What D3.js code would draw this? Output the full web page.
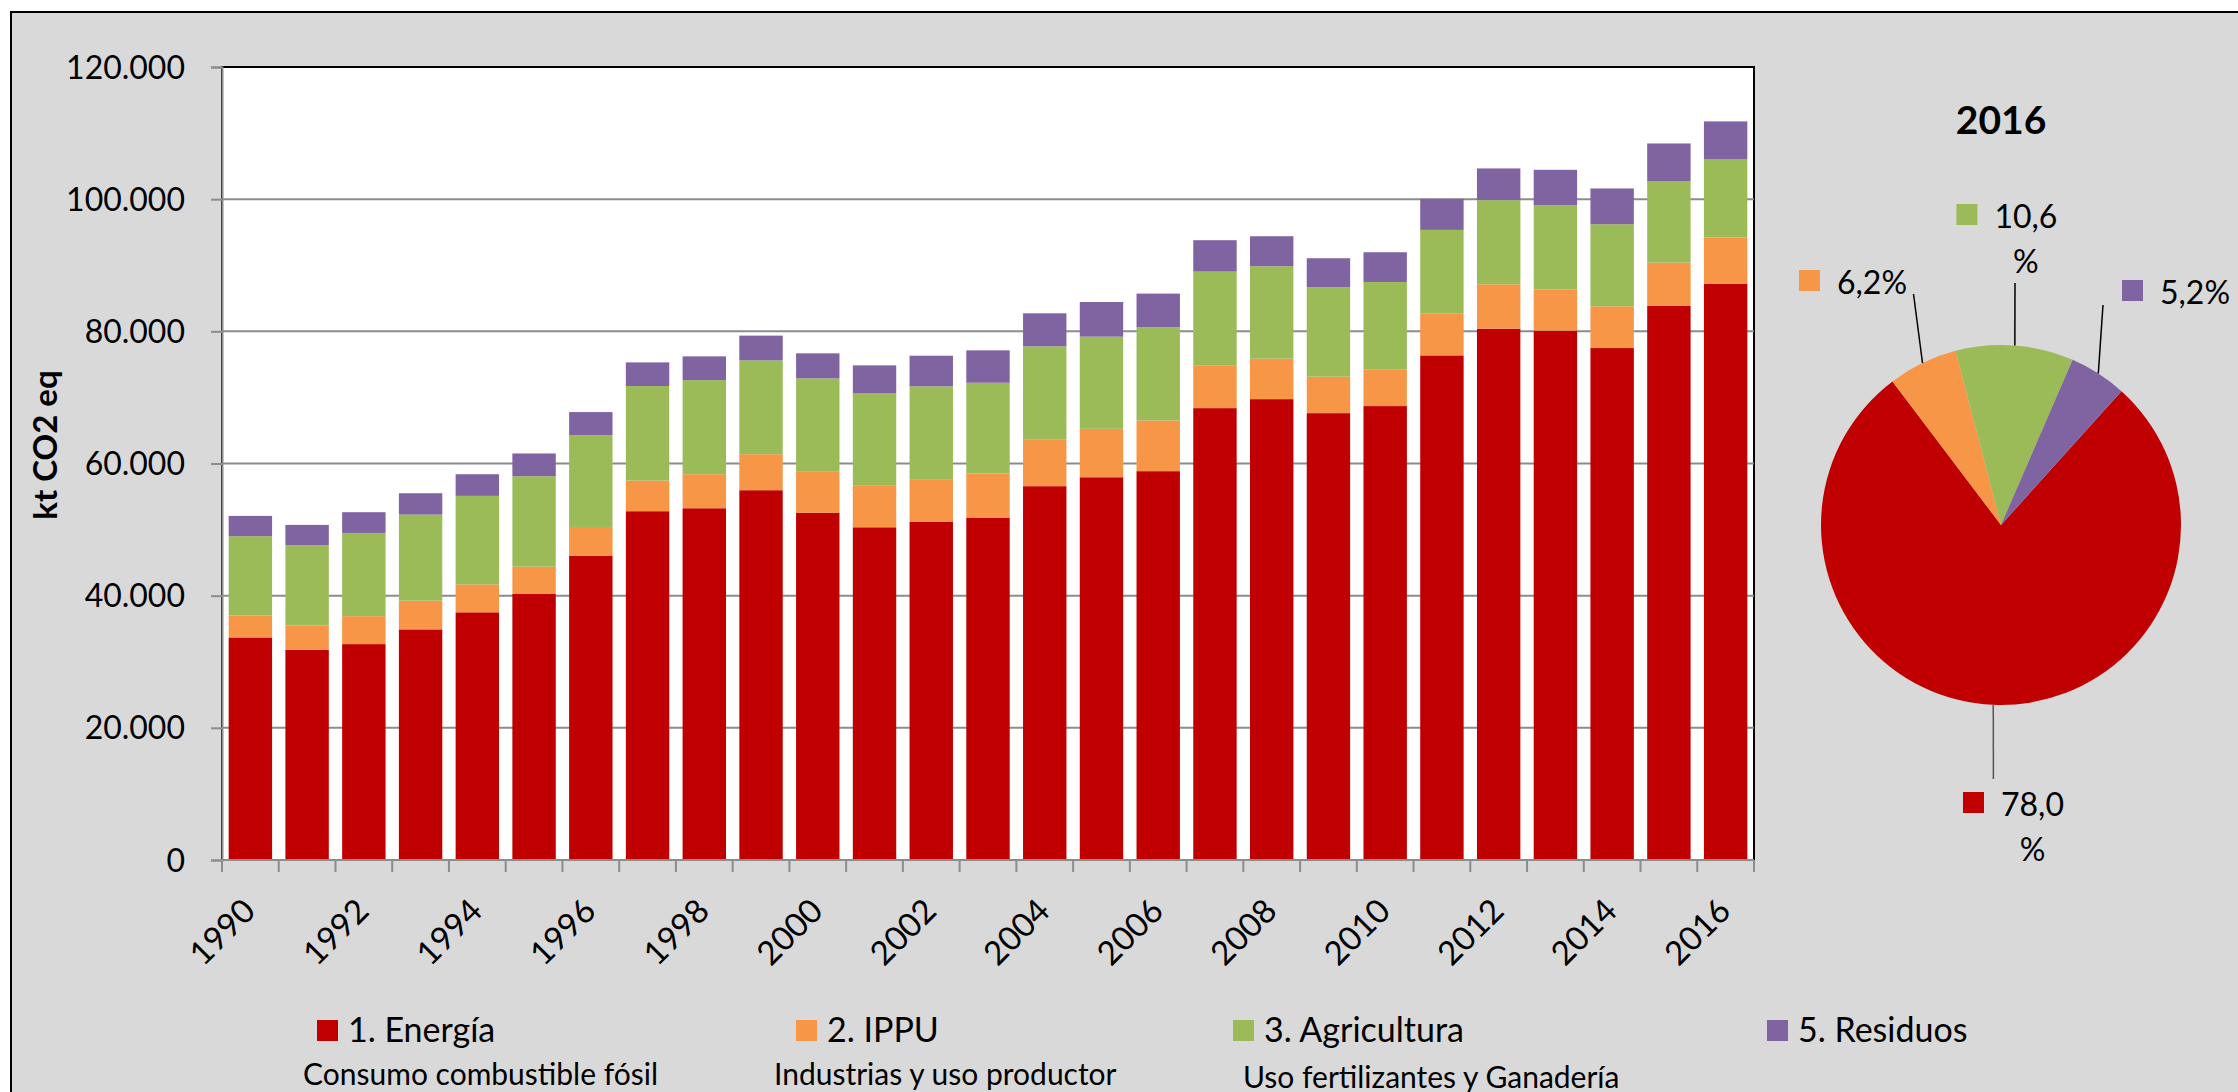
<!DOCTYPE html>
<html>
<head>
<meta charset="utf-8">
<script src="https://cdn.jsdelivr.net/npm/d3@7"></script>
<style>
body { margin: 0; background: #fff; }
svg text { font-family: Lato, "Open Sans", sans-serif; fill: #000; }
</style>
</head>
<body>
<svg id="chart" width="2238" height="1092"></svg>
<script>
// data (kt CO2 eq)
var years = [1990, 1991, 1992, 1993, 1994, 1995, 1996, 1997, 1998, 1999, 2000, 2001, 2002, 2003,
             2004, 2005, 2006, 2007, 2008, 2009, 2010, 2011, 2012, 2013, 2014, 2015, 2016];
var energia = [33680, 31820, 32670, 34900, 37480, 40250, 46060, 52780, 53230, 55960, 52520, 50350, 51210, 51820,
               56570, 57920, 58840, 68380, 69740, 67620, 68690, 76360, 80410, 80100, 77470, 83840, 87220];
var ippu = [3320, 3680, 4230, 4340, 4220, 4140, 4340, 4640, 5150, 5450, 6320, 6370, 6420, 6660,
            7020, 7330, 7680, 6420, 6120, 5510, 5500, 6370, 6710, 6210, 6320, 6560, 6970];
var agricultura = [12000, 12120, 12590, 13030, 13400, 13690, 13890, 14300, 14240, 14190, 14040, 13890, 14040, 13740,
                   14140, 13940, 14090, 14240, 13990, 13540, 13280, 12620, 12730, 12780, 12420, 12280, 11820];
var residuos = [3070, 3090, 3140, 3230, 3280, 3440, 3490, 3580, 3590, 3750, 3790, 4240, 4640, 4900,
                5000, 5250, 5100, 4750, 4540, 4390, 4500, 4700, 4800, 5350, 5410, 5750, 5760];
var sectors = ["1. Energía", "2. IPPU", "3. Agricultura", "5. Residuos"];
var sectorNotes = ["Consumo combustible fósil", "Industrias y uso productor", "Uso fertilizantes y Ganadería", ""];
var yTicks = [0, 20000, 40000, 60000, 80000, 100000, 120000];
var xLabelYears = [1990, 1992, 1994, 1996, 1998, 2000, 2002, 2004, 2006, 2008, 2010, 2012, 2014, 2016];
var pieYear = 2016;

// styles / layout
var colors = ["#C00000", "#F79646", "#9BBB59", "#8064A2"];
var plot = {left: 222, right: 1754, top: 67, bottom: 860};
var pie = {cx: 2001, cy: 525, r: 180, start: 42};
// label text start (dx, baseline dy) and leader end, relative to pie centre
var pieLabelLayout = [
    {dx: 0, dy: 291, lx: -7.6, ly: 254, wrap: true},
    {dx: -164, dy: -231, lx: -87.5, ly: -231, wrap: false},
    {dx: -6.6, dy: -297, lx: 14, ly: -242, wrap: true},
    {dx: 159, dy: -221, lx: 102, ly: -220, wrap: false}
];
var legendLayout = [
    {x: 317, nx: 303, ny: 1085},
    {x: 796, nx: 774, ny: 1085},
    {x: 1233, nx: 1243, ny: 1088},
    {x: 1767, nx: 0, ny: 0}
];

var svg = d3.select('#chart');
var series = [energia, ippu, agricultura, residuos];
var table = years.map(function (yr, i) {
    var row = {year: yr};
    series.forEach(function (s, k) { row[k] = s[i]; });
    return row;
});

var locale = d3.formatLocale({decimal: ',', thousands: '.', grouping: [3], currency: ['', '']});
var fmtThousands = locale.format(',.0f');
var fmtPct = locale.format('.1f');

// background frame
svg.append('rect')
    .attr('x', 11).attr('y', 12)
    .attr('width', 2240).attr('height', 1092)
    .attr('fill', '#d9d9d9')
    .attr('stroke', '#000')
    .attr('stroke-width', 2);

// scales
var x = d3.scaleBand()
    .domain(years)
    .range([plot.left, plot.right])
    .paddingInner(0.235)
    .paddingOuter(0.1175);
var y = d3.scaleLinear()
    .domain([0, 120000])
    .range([plot.bottom, plot.top]);

// plot area
svg.append('rect')
    .attr('x', plot.left).attr('y', plot.top)
    .attr('width', plot.right - plot.left).attr('height', plot.bottom - plot.top)
    .attr('fill', '#fff')
    .attr('stroke', '#000')
    .attr('stroke-width', 2);

svg.append('g')
    .selectAll('line')
    .data(yTicks.filter(function (d) { return d > 0 && d < 120000; }))
    .enter()
    .append('line')
    .attr('x1', plot.left).attr('x2', plot.right)
    .attr('y1', function (d) { return y(d); })
    .attr('y2', function (d) { return y(d); })
    .attr('stroke', '#8c8c8c')
    .attr('stroke-width', 2);

// stacked bars
var stacked = d3.stack().keys([0, 1, 2, 3])(table);

svg.append('g')
    .selectAll('g')
    .data(stacked)
    .enter()
    .append('g')
    .attr('fill', function (d, k) { return colors[k]; })
    .selectAll('rect')
    .data(function (d) { return d; })
    .enter()
    .append('rect')
    .attr('x', function (d) { return x(d.data.year); })
    .attr('width', x.bandwidth())
    .attr('y', function (d) { return y(d[1]); })
    .attr('height', function (d) { return y(d[0]) - y(d[1]); });

// y axis
var yAxis = svg.append('g')
    .attr('transform', 'translate(' + plot.left + ',0)')
    .call(d3.axisLeft(y).tickValues(yTicks).tickSize(11).tickPadding(26).tickFormat(fmtThousands));
yAxis.select('.domain').attr('stroke', '#8c8c8c').attr('stroke-width', 2);
yAxis.selectAll('.tick line').attr('stroke', '#8c8c8c').attr('stroke-width', 2);
yAxis.selectAll('.tick text')
    .attr('font-size', 32)
    .attr('dy', 11)
    .style('font-family', 'Lato');

// x axis
var xAxis = svg.append('g')
    .attr('transform', 'translate(0,' + plot.bottom + ')')
    .call(d3.axisBottom(x).tickValues(xLabelYears).tickSize(0));
xAxis.select('.domain').remove();
xAxis.selectAll('.tick text')
    .attr('font-size', 33)
    .attr('x', 0).attr('y', 0).attr('dy', 0)
    .attr('text-anchor', 'end')
    .attr('transform', 'translate(7,53) rotate(-45)')
    .style('font-family', 'Lato');

var bounds = years.map(function (yr) { return x(yr) - (x.step() - x.bandwidth()) / 2; });
bounds.push(plot.right);
svg.append('g')
    .selectAll('line')
    .data(bounds)
    .enter()
    .append('line')
    .attr('x1', function (d) { return d; })
    .attr('x2', function (d) { return d; })
    .attr('y1', plot.bottom).attr('y2', plot.bottom + 12)
    .attr('stroke', '#8c8c8c')
    .attr('stroke-width', 2);
svg.append('line')
    .attr('x1', plot.left - 1).attr('x2', plot.right)
    .attr('y1', plot.bottom).attr('y2', plot.bottom)
    .attr('stroke', '#8c8c8c')
    .attr('stroke-width', 2);

// y title
svg.append('text')
    .attr('transform', 'translate(57,445) rotate(-90)')
    .attr('text-anchor', 'middle')
    .attr('font-size', 33)
    .attr('font-weight', 'bold')
    .text('kt CO2 eq');

// pie
var idx = years.indexOf(pieYear);
var pieData = series.map(function (s, k) { return {k: k, value: s[idx]}; });
var total = d3.sum(pieData, function (d) { return d.value; });
var a0 = pie.start * Math.PI / 180;
var arcs = d3.pie()
    .sort(null)
    .startAngle(a0)
    .endAngle(a0 + 2 * Math.PI)
    .value(function (d) { return d.value; })(pieData);
var arc = d3.arc().innerRadius(0).outerRadius(pie.r);

var pg = svg.append('g').attr('transform', 'translate(' + pie.cx + ',' + pie.cy + ')');
pg.selectAll('path')
    .data(arcs)
    .enter()
    .append('path')
    .attr('d', arc)
    .attr('fill', function (d) { return colors[d.data.k]; });

pg.append('text')
    .attr('x', 0).attr('y', 134 - pie.cy)
    .attr('text-anchor', 'middle')
    .attr('font-size', 39)
    .attr('font-weight', 'bold')
    .text(pieYear);

arcs.forEach(function (d) {
    var k = d.data.k;
    var lay = pieLabelLayout[k];
    var mid = (d.startAngle + d.endAngle) / 2;
    var px = Math.sin(mid) * pie.r;
    var py = -Math.cos(mid) * pie.r;
    pg.append('line')
        .attr('x1', px).attr('y1', py)
        .attr('x2', lay.lx).attr('y2', lay.ly)
        .attr('stroke', k === 0 ? '#555' : '#000')
        .attr('stroke-width', 1.5);
    pg.append('rect')
        .attr('x', lay.dx - 38).attr('y', lay.dy - 24)
        .attr('width', 21).attr('height', 21)
        .attr('fill', colors[k]);
    var num = fmtPct(d.value / total * 100);
    var t = pg.append('text')
        .attr('x', lay.dx).attr('y', lay.dy)
        .attr('font-size', 32)
        .text(lay.wrap ? num : num + '%');
    if (lay.wrap) {
        var w = t.node().getComputedTextLength();
        pg.append('text')
            .attr('x', lay.dx + w / 2).attr('y', lay.dy + 45)
            .attr('text-anchor', 'middle')
            .attr('font-size', 32)
            .text('%');
    }
});

// legend
var lg = svg.append('g');
sectors.forEach(function (name, k) {
    var lay = legendLayout[k];
    lg.append('rect')
        .attr('x', lay.x).attr('y', 1020)
        .attr('width', 21).attr('height', 21)
        .attr('fill', colors[k]);
    lg.append('text')
        .attr('x', lay.x + 31).attr('y', 1042)
        .attr('font-size', 34)
        .text(name);
    if (sectorNotes[k]) {
        lg.append('text')
            .attr('x', lay.nx).attr('y', lay.ny)
            .attr('font-size', 30)
            .text(sectorNotes[k]);
    }
});
</script>
</body>
</html>
